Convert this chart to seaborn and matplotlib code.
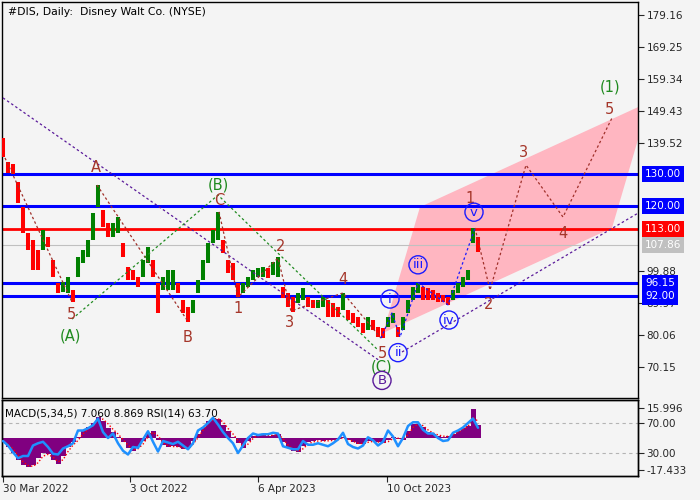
import numpy as np
import pandas as pd
import matplotlib
matplotlib.use("Agg")
import matplotlib.pyplot as plt
import matplotlib.transforms as mtransforms
from matplotlib.patches import Polygon
import seaborn as sns

# ---- price bars, one sample every 5 trading days (high / low)
step = 5
bar_hi = [141.1, 133.6, 133.0, 127.5, 119.7, 111.7, 109.5, 106.4, 112.6, 110.4,
          103.3, 96.2, 96.5, 98.0, 94.0, 104.2, 106.4, 109.5, 117.8, 126.5,
          118.8, 114.8, 114.8, 116.6, 108.6, 101.1, 100.2, 98.0, 103.3, 107.3,
          103.3, 96.2, 98.0, 100.2, 100.2, 96.2, 90.9, 88.7, 90.9, 97.1,
          103.3, 108.6, 112.6, 118.2, 109.5, 103.3, 102.4, 96.2, 96.2, 98.0,
          100.2, 100.8, 101.1, 100.8, 102.7, 104.2, 94.9, 93.1, 91.8, 93.1,
          94.6, 91.8, 90.9, 90.9, 91.8, 90.9, 90.0, 88.7, 93.1, 87.8,
          86.9, 85.6, 83.8, 85.6, 84.7, 82.5, 82.2, 85.6, 86.9, 82.5,
          85.6, 90.9, 94.9, 96.2, 94.9, 94.6, 94.0, 93.1, 92.5, 91.8,
          94.0, 96.2, 98.0, 100.2, 113.2, 110.4]
bar_lo = [135.2, 130.2, 129.8, 120.9, 111.7, 106.4, 100.2, 100.2, 106.4, 107.3,
          98.0, 93.1, 93.4, 93.1, 90.3, 98.0, 102.4, 104.2, 109.5, 119.7,
          113.5, 110.4, 110.4, 111.7, 104.2, 97.1, 97.1, 94.9, 98.0, 102.4,
          98.0, 86.9, 94.0, 94.0, 94.0, 93.1, 86.9, 84.1, 86.9, 93.1,
          97.1, 102.4, 108.6, 109.5, 105.5, 99.3, 97.1, 91.8, 93.1, 94.9,
          97.1, 98.0, 98.0, 97.7, 98.6, 98.0, 91.5, 88.7, 87.2, 90.0,
          90.9, 88.7, 88.4, 88.4, 88.7, 85.6, 85.6, 85.6, 87.8, 84.7,
          83.8, 82.5, 80.7, 81.6, 81.6, 79.4, 79.1, 82.5, 83.8, 79.4,
          81.6, 86.9, 90.9, 93.1, 90.9, 90.9, 90.9, 90.3, 90.3, 89.4,
          90.9, 93.1, 94.9, 97.1, 108.6, 105.8]

# ---- indicator panel, same samples
macd_hist = [-3, -5, -8, -12, -15, -16, -15, -11, -8.5, -9,
             -12, -14, -10, -5, -2.5, 0.5, 4, 5.5, 8, 11.3,
             9, 5, 3, 0.5, -2.5, -5.5, -7, -5, -2, 2.5,
             3.5, -1, -4, -5, -4.5, -5, -6, -5.5, -2, 2,
             6, 9, 10.5, 10, 7, 3.5, 0.5, -3, -5.5, -2,
             1, 2, 1.5, 1, 1.5, 2, -2.5, -5.5, -7, -7.5,
             -4.5, -2.5, -2, -1.5, -2, -1.5, -1.5, -0.5, 0.5, -1.5,
             -2.5, -3.2, -3.2, -2, -2, -2.5, -3, -1.5, 0.5, -0.5,
             -1, 3.5, 7.5, 7.5, 5.5, 3, 2, 1, 0.5, 0.8,
             2, 3.8, 5, 6.5, 15.5, 7.06]
macd_signal = [-2, -3.5, -6, -9.5, -13, -15, -15.5, -13.5, -10, -9,
               -10.5, -13, -12, -7.5, -4, -1.5, 2, 4.5, 6.5, 9.5,
               10, 7.5, 4.5, 2, -1, -4, -6.5, -6, -3.5, 0.5,
               3, 1, -2.5, -4.5, -4.8, -4.8, -5.5, -5.8, -3.5, 0,
               4, 7.5, 9.8, 10.3, 8.5, 5, 2, -1.5, -4.5, -3.5,
               -0.5, 1.5, 1.8, 1.2, 1.3, 1.8, -0.5, -4, -6.3, -7.3,
               -6, -3.5, -2.3, -1.8, -1.8, -1.7, -1.5, -1, 0, -0.8,
               -2, -3, -3.2, -2.5, -2, -2.3, -2.8, -2.2, -0.5, -0.3,
               -0.8, 1.5, 5.5, 7.3, 6.5, 4.2, 2.5, 1.5, 0.8, 0.7,
               1.5, 3, 4.5, 6, 11, 8.87]
rsi = [46, 40, 31, 23, 26, 26, 40, 43, 45, 38,
       29, 28, 36, 39, 43, 60, 60, 63, 67, 76,
       58, 50, 56, 43, 33, 28, 38, 37, 48, 59,
       45, 32, 46, 44, 42, 45, 40, 35, 43, 60,
       64, 70, 77, 68, 58, 50, 43, 30, 40, 50,
       56, 54, 55, 55, 57, 56, 39, 37, 35, 35,
       46, 41, 41, 43, 41, 39, 43, 48, 57, 42,
       38, 36, 40, 51, 47, 40, 45, 60, 52, 39,
       50, 66, 71, 71, 61, 56, 56, 50, 46, 47,
       57, 60, 64, 70, 76, 63.7]

# ---- levels and axis labels
blue_levels = [130.00, 120.00, 96.15, 92.00]
red_level = 113.00
last_price = 107.86
# grid values that are not hidden behind the level boxes
price_ticks = [70.15, 80.06, 89.97, 99.88, 139.52, 149.43, 159.34, 169.25, 179.16]
date_ticks = [0, 127, 255, 384]
date_labels = ["30 Mar 2022", "3 Oct 2022", "6 Apr 2023", "10 Oct 2023"]

# ---- wave markup (bar index, price)
purple_lines = [[(0, 153.5), (377, 72.0)],
                [(399, 74.8), (635, 117.8)]]
brown_paths = [[(2, 134.9), (69, 90.3)],
               [(94, 126.5), (184, 84.7)],
               [(216, 118.2), (235, 91.8), (275, 103.9), (288, 87.5), (340, 93.1), (378, 79.1)],
               [(472, 113.2), (487, 94.0), (523, 132.7), (560, 116.6), (609, 147.3)]]
green_path = [(69, 85.0), (215, 123.4), (375, 75.4)]
blue_path = [(378, 79.1), (389, 86.9), (397, 79.4), (415, 96.2), (445, 89.4), (472, 113.2)]
channel = [(380, 80.7), (417, 119.7), (646, 152.2), (609, 113.2)]

brown_labels = [("A", 93, 131.8), ("5", 68, 86.3), ("B", 185, 79.3), ("C", 216, 121.8),
                ("1", 235, 88.3), ("2", 278, 107.5), ("3", 287, 83.8), ("4", 340, 97.4),
                ("5", 379, 74.4), ("1", 467, 122.2), ("2", 486, 89.4), ("3", 521, 136.7),
                ("4", 560, 111.6), ("5", 606, 150.0)]
green_labels = [("(A)", 67, 79.8), ("(B)", 215, 126.5), ("(C)", 379, 70.1), ("(1)", 607, 157.0)]
circle_labels = [("B", 379, 66.0, '#5a1a9a'), ("i", 387, 91.2, '#1a1aff'),
                 ("ii", 395, 74.6, '#1a1aff'), ("iii", 415, 101.8, '#1a1aff'),
                 ("iv", 446, 84.7, '#1a1aff'), ("v", 471, 118.1, '#1a1aff')]

# ---- style
sns.set_style("white")
plt.rcParams['font.family'] = ['DejaVu Sans']
plt.rcParams['axes.linewidth'] = 1.0
bg = '#f4f4f4'
fs = 7.5

df = pd.DataFrame({'bar': np.arange(len(bar_hi)) * step, 'hi': bar_hi, 'lo': bar_lo,
                   'hist': macd_hist, 'signal': macd_signal, 'rsi': rsi})

fig = plt.figure(figsize=(7, 5), dpi=100, facecolor=bg)
ax = fig.add_axes([2 / 700, 102 / 500, 636 / 700, 396 / 500], facecolor=bg)
axm = fig.add_axes([2 / 700, 24 / 500, 636 / 700, 76 / 500], facecolor=bg)

# ---- main price panel
ax.set_xlim(-1, 635)
ax.set_ylim(60.55, 183.2)
ax.add_patch(Polygon(channel, closed=True, facecolor='#ffb6c1', edgecolor='none', zorder=1))

for v in blue_levels:
    ax.axhline(v, color='#0000ff', lw=2.2, zorder=2)
ax.axhline(red_level, color='#ff0000', lw=2.0, zorder=2)
ax.axhline(last_price, color='#c0c0c0', lw=0.8, zorder=2)

mid = (df['hi'] + df['lo']) / 2
up = mid.diff().fillna(-1) >= 0
ax.vlines(df['bar'], df['lo'], df['hi'], colors=np.where(up, '#008000', '#ff0000'),
          lw=2.9, zorder=3)

dots = (0, (2, 2))
for seg in purple_lines:
    xs, ys = zip(*seg)
    ax.plot(xs, ys, color='#5a1a9a', lw=0.9, ls=dots, zorder=4)
for seg in brown_paths:
    xs, ys = zip(*seg)
    ax.plot(xs, ys, color='#a0302a', lw=0.9, ls=dots, zorder=4)
xs, ys = zip(*green_path)
ax.plot(xs, ys, color='#228b22', lw=0.9, ls=dots, zorder=4)
xs, ys = zip(*blue_path)
ax.plot(xs, ys, color='#1a1aff', lw=0.9, ls=dots, zorder=4)

for t, bx, by in brown_labels:
    ax.text(bx, by, t, color='#a5362a', fontsize=10.5, ha='center', va='center', zorder=6)
for t, bx, by in green_labels:
    ax.text(bx, by, t, color='#1f8a1f', fontsize=10.5, ha='center', va='center', zorder=6)
for t, bx, by, c in circle_labels:
    ax.scatter([bx], [by], s=170, facecolors='none', edgecolors=c, linewidths=1, zorder=6)
    ax.text(bx, by, t, color=c, fontsize=9.5, ha='center', va='center', zorder=7)

ax.text(0.0094, 0.975, "#DIS, Daily:  Disney Walt Co. (NYSE)", transform=ax.transAxes,
        fontsize=7.8, ha='left', va='center', color='black')

ax.set_xticks([])
ax.yaxis.tick_right()
ax.set_yticks(price_ticks)
ax.set_yticklabels([f'{v:.2f}' for v in price_ticks], fontsize=fs)
ax.tick_params(axis='y', direction='out', length=4, width=0.8, pad=2, right=True, left=False)

trans = mtransforms.blended_transform_factory(ax.transAxes, ax.transData)
boxes = [(v, '#0000ff', 'white') for v in blue_levels] + \
        [(red_level, '#ff0000', 'white'), (last_price, '#c0c0c0', 'white')]
for v, fc, tc in boxes:
    ax.text(1.011, v, f'{v:.2f}', transform=trans, fontsize=fs, color=tc, ha='left',
            va='center', clip_on=False, zorder=10,
            bbox=dict(boxstyle='square,pad=0.3', fc=fc, ec='none'))

# ---- indicator panel
axm.set_xlim(-1, 635)
axm.set_ylim(-20.67, 20.31)
axr = axm.twinx()
axr.set_ylim(-0.67, 100.7)

rtrans = mtransforms.blended_transform_factory(axm.transAxes, axr.transData)
for lvl in (70, 30):
    axm.plot([0, 1], [lvl, lvl], transform=rtrans, color='#b4b4b4', lw=0.8,
             ls=(0, (3, 3)), zorder=1)
axm.bar(df['bar'], df['hist'], width=step, color='#800080', lw=0, zorder=2)
sns.lineplot(data=df, x='bar', y='signal', ax=axm, color='#ff0000', lw=1.0,
             linestyle=(0, (1, 1.5)), zorder=3)
sns.lineplot(data=df, x='bar', y='rsi', ax=axr, color='#1e90ff', lw=1.8, zorder=4)
axm.set_xlabel('')
axm.set_ylabel('')
axr.set_ylabel('')

axm.text(0.005, 0.82, "MACD(5,34,5) 7.060 8.869 RSI(14) 63.70", transform=axm.transAxes,
         fontsize=fs, ha='left', va='center', color='black', zorder=6)

axm.yaxis.tick_right()
axm.set_yticks([15.996, -17.433])
axm.set_yticklabels(['15.996', '-17.433'], fontsize=fs)
axr.set_yticks([70, 30])
axr.set_yticklabels(['70.00', '30.00'], fontsize=fs)
for a in (axm, axr):
    a.tick_params(axis='y', direction='out', length=4, width=0.8, pad=2, right=True, left=False)

axm.set_xticks(date_ticks)
axm.set_xticklabels(date_labels, fontsize=fs)
for lab in axm.get_xticklabels():
    lab.set_ha('left')
axm.tick_params(axis='x', direction='out', length=4, width=0.8, pad=2, bottom=True)

for a in (ax, axm, axr):
    for s in a.spines.values():
        s.set_color('black')
        s.set_linewidth(1.0)

fig.savefig('out.png', dpi=100, facecolor=bg)
